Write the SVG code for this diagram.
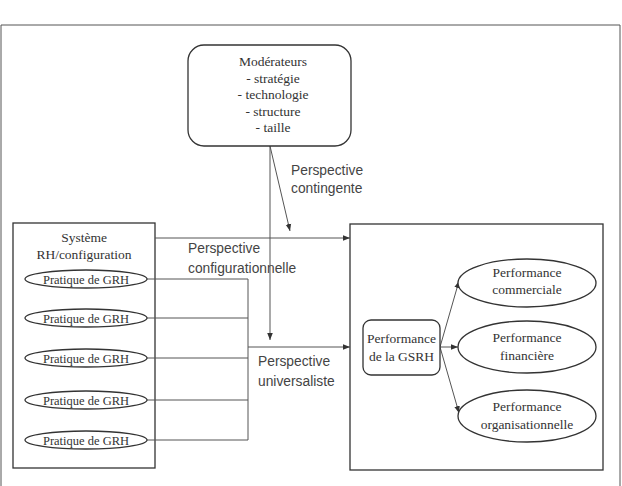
<svg xmlns="http://www.w3.org/2000/svg" width="622" height="486" viewBox="0 0 622 486">
<defs>
<marker id="ah" viewBox="0 0 10 10" refX="10" refY="5" markerWidth="7" markerHeight="7" orient="auto" markerUnits="userSpaceOnUse"><path d="M0,1 L10,5 L0,9 Z" fill="#333"/></marker>
</defs>
<style>
.box{fill:#fff;stroke:#333;stroke-width:1.3}
.frame{fill:none;stroke:#333;stroke-width:1.3}
.ln{fill:none;stroke:#555;stroke-width:1}
.ser{font-family:"Liberation Serif","Times New Roman",serif;font-size:13.5px;fill:#333;text-anchor:middle}
.sm{font-family:"Liberation Serif","Times New Roman",serif;font-size:12.5px;fill:#333;text-anchor:middle}
.san{font-family:"Liberation Sans",Arial,sans-serif;font-size:13.8px;fill:#444}
</style>
<rect width="622" height="486" fill="#fff"/>
<path d="M1,486 V25 H620 V486" class="ln" stroke="#666"/>

<g id="systeme">
<rect x="13" y="223" width="142" height="245" class="frame"/>
<text class="ser" x="84" y="242">Système</text>
<text class="ser" x="84" y="259">RH/configuration</text>
</g>
<g id="resultats">
<rect x="350" y="224" width="253" height="246" class="frame"/>
</g>

<g id="connectors">
<line x1="270" y1="146" x2="270" y2="340" class="ln" marker-end="url(#ah)"/>
<line x1="270" y1="146" x2="290" y2="231" class="ln" marker-end="url(#ah)"/>
<line x1="155" y1="238" x2="350" y2="238" class="ln" marker-end="url(#ah)"/>
<path d="M147,279 H248 M147,318 H248 M147,358 H248 M147,400 H248 M147,440 H248 M248,279 V440" class="ln"/>
<line x1="248" y1="347" x2="350" y2="347" class="ln" marker-end="url(#ah)"/>
<line x1="440" y1="347" x2="459" y2="281" class="ln" marker-end="url(#ah)"/>
<line x1="440" y1="347" x2="458" y2="347" class="ln" marker-end="url(#ah)"/>
<line x1="440" y1="347" x2="459" y2="413" class="ln" marker-end="url(#ah)"/>
</g>

<g id="moderateurs">
<rect x="188" y="45" width="163" height="101" rx="16" class="box"/>
<text class="ser" x="273" y="66">Modérateurs</text>
<text class="ser" x="273" y="82.5">- stratégie</text>
<text class="ser" x="273" y="99">- technologie</text>
<text class="ser" x="273" y="115.5">- structure</text>
<text class="ser" x="273" y="132">- taille</text>
</g>

<g id="label-contingente">
<text class="san" x="291" y="175">Perspective</text>
<text class="san" x="291" y="193">contingente</text>
</g>

<g id="pratique1"><ellipse cx="86" cy="279" rx="61" ry="9" class="box"/><text class="sm" x="86" y="283.5">Pratique de GRH</text></g>
<g id="pratique2"><ellipse cx="86" cy="318" rx="61" ry="9" class="box"/><text class="sm" x="86" y="322.5">Pratique de GRH</text></g>
<g id="pratique3"><ellipse cx="86" cy="358" rx="61" ry="9" class="box"/><text class="sm" x="86" y="362.5">Pratique de GRH</text></g>
<g id="pratique4"><ellipse cx="86" cy="400" rx="61" ry="9" class="box"/><text class="sm" x="86" y="404.5">Pratique de GRH</text></g>
<g id="pratique5"><ellipse cx="86" cy="440" rx="61" ry="9" class="box"/><text class="sm" x="86" y="444.5">Pratique de GRH</text></g>

<g id="label-configurationnelle">
<text class="san" x="188" y="253">Perspective</text>
<text class="san" x="188" y="273">configurationnelle</text>
</g>
<g id="label-universaliste">
<text class="san" x="258" y="366">Perspective</text>
<text class="san" x="258" y="386">universaliste</text>
</g>

<g id="gsrh">
<rect x="363" y="320" width="77" height="55" rx="8" class="box"/>
<text class="ser" x="401.5" y="343">Performance</text>
<text class="ser" x="401.5" y="361">de la GSRH</text>
</g>
<g id="commerciale">
<ellipse cx="527" cy="283" rx="69" ry="24" class="box"/>
<text class="ser" x="527" y="277">Performance</text>
<text class="ser" x="527" y="294">commerciale</text>
</g>
<g id="financiere">
<ellipse cx="527" cy="347" rx="69" ry="26" class="box"/>
<text class="ser" x="527" y="342">Performance</text>
<text class="ser" x="527" y="360">financière</text>
</g>
<g id="organisationnelle">
<ellipse cx="527" cy="416" rx="69" ry="26" class="box"/>
<text class="ser" x="527" y="411">Performance</text>
<text class="ser" x="527" y="429">organisationnelle</text>
</g>
</svg>
